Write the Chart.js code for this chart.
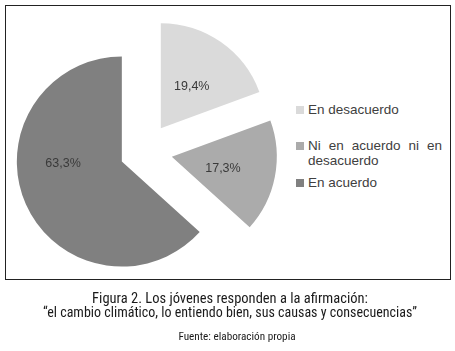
<!DOCTYPE html>
<html>
<head>
<meta charset="utf-8">
<script src="https://cdn.jsdelivr.net/npm/chart.js@4/dist/chart.umd.min.js"></script>
<style>
  body { margin: 0; background: #fff; width: 455px; height: 351px; position: relative; overflow: hidden; }
  .frame { position: absolute; left: 5px; top: 5px; width: 444px; height: 273px; border: 1px solid #222; }
  #pie-wrap { position: absolute; left: 0; top: 0; width: 289px; height: 303px; }
  .legend { position: absolute; left: 296px; top: 102px; width: 146px; font-family: "Liberation Sans", Arial, sans-serif; font-size: 13.5px; color: #404040; }
  .legend-item { position: relative; padding-left: 12px; line-height: 15px; text-align: justify; }
  .legend-item .sw { position: absolute; left: 0; top: 4px; width: 8px; height: 8px; }
  .cap { position: absolute; font-family: "Roboto Condensed", sans-serif; color: #1a1a1a; white-space: nowrap; transform: translateX(-50%); }
</style>
</head>
<body>
<div class="frame"></div>
<div id="pie-wrap"><canvas id="pie"></canvas></div>
<div class="legend" id="legend"></div>
<div class="cap" id="cap1" style="left:230px; top:289.5px; font-size:14.5px;"></div>
<div class="cap" id="cap2" style="left:230px; top:304px; font-size:14px;"></div>
<div class="cap" id="src" style="left:237px; top:329.5px; font-size:11.2px;"></div>
<script>
// Figura 2 - respuestas de los jovenes
const categories = ['En desacuerdo', 'Ni en acuerdo ni en desacuerdo', 'En acuerdo'];
const values = [19.4, 17.3, 63.3];
const valueLabels = ['19,4%', '17,3%', '63,3%'];
const sliceColors = ['#dadada', '#ababab', '#808080'];
const captionLines = [
  'Figura 2. Los jóvenes responden a la afirmación:',
  '“el cambio climático, lo entiendo bien, sus causas y consecuencias”'
];
const sourceText = 'Fuente: elaboración propia';

document.getElementById('cap1').textContent = captionLines[0];
document.getElementById('cap2').textContent = captionLines[1];
document.getElementById('src').textContent = sourceText;

// legend as html, the long label wraps and is justified like the original
const legend = document.getElementById('legend');
categories.forEach((c, i) => {
  const item = document.createElement('div');
  item.className = 'legend-item';
  item.innerHTML = '<span class="sw" style="background:' + sliceColors[i] + '"></span>' + c;
  legend.appendChild(item);
});
legend.children[0].style.marginBottom = '21px';
legend.children[1].style.marginBottom = '7px';

// chart.js "offset" also grows big slices, so the explode is done here:
// every arc is pushed out from the pie centre along its own bisector
const explode = {
  id: 'explode',
  beforeDatasetsDraw(chart, args, opts) {
    const a = chart.chartArea;
    const cx = (a.left + a.right) / 2, cy = (a.top + a.bottom) / 2;
    chart.getDatasetMeta(0).data.forEach((arc, i) => {
      const mid = (arc.startAngle + arc.endAngle) / 2;
      arc.x = cx + Math.cos(mid) * opts.dist[i];
      arc.y = cy + Math.sin(mid) * opts.dist[i];
    });
  }
};

// percent labels inside each slice (excel nudges the big one a bit)
const sliceLabels = {
  id: 'sliceLabels',
  afterDatasetsDraw(chart, args, opts) {
    const ctx = chart.ctx;
    ctx.save();
    ctx.font = '12.5px "Liberation Sans", Arial, sans-serif';
    ctx.fillStyle = '#3a3a3a';
    ctx.textAlign = 'center';
    ctx.textBaseline = 'middle';
    chart.getDatasetMeta(0).data.forEach((arc, i) => {
      const mid = (arc.startAngle + arc.endAngle) / 2 + opts.turn[i] * Math.PI / 180;
      const d = arc.outerRadius * opts.at[i];
      ctx.fillText(valueLabels[i], arc.x + Math.cos(mid) * d, arc.y + Math.sin(mid) * d);
    });
    ctx.restore();
  }
};

new Chart(document.getElementById('pie'), {
  type: 'pie',
  data: {
    labels: categories,
    datasets: [{
      data: values,
      backgroundColor: sliceColors,
      borderWidth: 0,
      hoverOffset: 0
    }]
  },
  options: {
    responsive: true,
    maintainAspectRatio: false,
    animation: false,
    events: [],
    radius: 105,
    layout: { padding: 0 },
    plugins: {
      legend: { display: false },
      tooltip: { enabled: false },
      explode: { dist: [28.5, 27.8, 24.8] },
      sliceLabels: { at: [0.49, 0.5, 0.56], turn: [2, 2, 22] }
    }
  },
  plugins: [explode, sliceLabels]
});
</script>
</body>
</html>
